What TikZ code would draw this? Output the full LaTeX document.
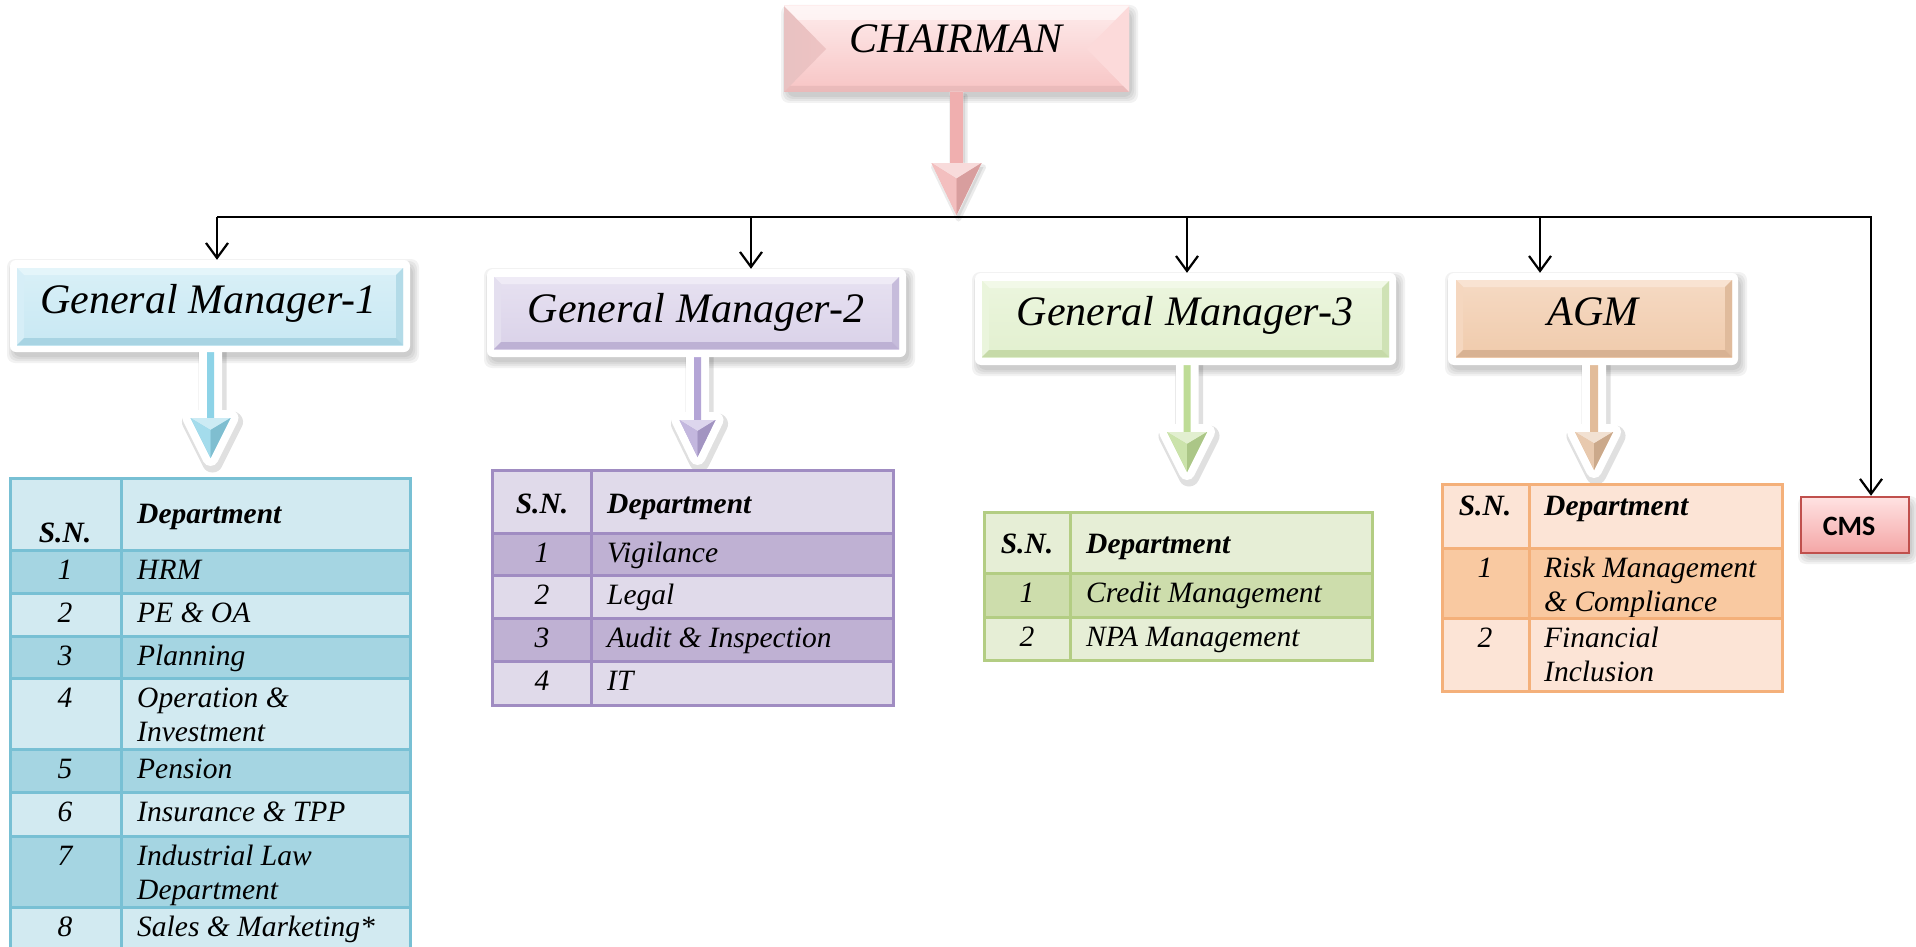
\documentclass[tikz,border=0pt]{standalone}
\usepackage{fontspec}
\setmainfont{Liberation Serif}
\newfontfamily\cmsfont{Carlito}
\usetikzlibrary{arrows.meta}

\definecolor{bluL}{HTML}{D2EAF1}
\definecolor{bluD}{HTML}{A5D5E2}
\definecolor{bluB}{HTML}{78C0D4}
\definecolor{bluBox}{HTML}{C8E8F3}
\definecolor{bluLt}{HTML}{E4F5FA}
\definecolor{bluDk}{HTML}{93C7D8}
\definecolor{bluArr}{HTML}{8DD3E7}

\definecolor{purL}{HTML}{E0DAEA}
\definecolor{purD}{HTML}{BFB1D3}
\definecolor{purB}{HTML}{A08CC2}
\definecolor{purBox}{HTML}{DAD2E9}
\definecolor{purLt}{HTML}{EFEBF6}
\definecolor{purDk}{HTML}{A99BC6}
\definecolor{purArr}{HTML}{B4A5D6}

\definecolor{grnL}{HTML}{E6EED6}
\definecolor{grnD}{HTML}{CDDDAC}
\definecolor{grnB}{HTML}{B3CD83}
\definecolor{grnBox}{HTML}{E2F0CF}
\definecolor{grnLt}{HTML}{F2F9E8}
\definecolor{grnDk}{HTML}{B3CC8E}
\definecolor{grnArr}{HTML}{BEDC96}

\definecolor{orgL}{HTML}{FCE4D6}
\definecolor{orgD}{HTML}{F9C9A1}
\definecolor{orgB}{HTML}{F4B07A}
\definecolor{orgBox}{HTML}{F0CBAC}
\definecolor{orgLt}{HTML}{F9E3D2}
\definecolor{orgDk}{HTML}{C9A283}
\definecolor{orgArr}{HTML}{E2BC9A}

\definecolor{pnkTop}{HTML}{FEECEC}
\definecolor{pnkBot}{HTML}{F7C4C4}
\definecolor{pnkLeft}{HTML}{E8C2C2}
\definecolor{pnkRight}{HTML}{FCDADA}
\definecolor{pnkArr}{HTML}{F0AFAF}
\definecolor{cmsTop}{HTML}{FFE2E2}
\definecolor{cmsBot}{HTML}{F4A6A6}
\definecolor{cmsB}{HTML}{C0504D}

\tikzset{
  bus/.style={draw=black, line width=2.2pt},
  droparrow/.style={bus, -{Straight Barb[length=15pt,width=22pt,line width=2.2pt]}},
  boxtext/.style={font=\fontsize{42}{50}\selectfont\itshape, inner sep=0, anchor=base},
  celltext/.style={font=\fontsize{29.5}{34}\selectfont\itshape, inner sep=0},
  headtext/.style={font=\fontsize{29.5}{34}\selectfont\bfseries\itshape, inner sep=0},
  glow/.style={fill=white, rounded corners=6pt, inner sep=0},
}

\newcommand\softshadow[4]{%
  \foreach \k in {0,2,4,6}{%
    \fill[black, opacity=0.05, rounded corners=8pt] ({#1+3-\k},{#2+5-\k}) rectangle ({#3+3+\k},{#4+5+\k});
  }%
}

% name, x1, y1, x2, y2, base, light, dark, bevel
\newcommand\bevelbox[9]{%
  \shade[top color=#7!60!#6, bottom color=#6] (#2,#3) rectangle (#4,#5);
  \fill[#7] (#2,#3) -- (#4,#3) -- ({#4-#9},{#3+#9}) -- ({#2+#9},{#3+#9}) -- cycle;
  \fill[#7!50!#6] (#2,#3) -- ({#2+#9},{#3+#9}) -- ({#2+#9},{#5-#9}) -- (#2,#5) -- cycle;
  \fill[#8!40!#6] (#4,#3) -- ({#4-#9},{#3+#9}) -- ({#4-#9},{#5-#9}) -- (#4,#5) -- cycle;
  \fill[#8!60!#6] (#2,#5) -- ({#2+#9},{#5-#9}) -- ({#4-#9},{#5-#9}) -- (#4,#5) -- cycle;
  \node[inner sep=0, minimum width={(#4-#2)*1pt}, minimum height={(#5-#3)*1pt}] (#1) at ({(#2+#4)/2},{(#3+#5)/2}) {};
}

% cx, ytop, yhead, ytip, shaft half, head half, colour, outline width, shadow opacity
\newcommand\blockarrow[9]{%
  \path[fill=black, draw=black, opacity=#9, line width={#8+5pt}, line join=round, xshift=2pt, yshift=-4pt]
    ({#1-#5},#2) -- ({#1-#5},#3) -- ({#1-#6},#3) -- (#1,#4) -- ({#1+#6},#3) -- ({#1+#5},#3) -- ({#1+#5},#2) -- cycle;
  \path[fill=white, draw=white, line width=#8, line join=round]
    ({#1-#5},#2) -- ({#1-#5},#3) -- ({#1-#6},#3) -- (#1,#4) -- ({#1+#6},#3) -- ({#1+#5},#3) -- ({#1+#5},#2) -- cycle;
  \path[fill=#7]
    ({#1-#5},#2) -- ({#1-#5},#3) -- ({#1-#6},#3) -- (#1,#4) -- ({#1+#6},#3) -- ({#1+#5},#3) -- ({#1+#5},#2) -- cycle;
  \fill[#7!45!white] ({#1-#6},#3) -- ({#1+#6},#3) -- (#1,{#3+(#4-#3)*0.3}) -- cycle;
  \fill[#7!80!white] ({#1-#6},#3) -- (#1,{#3+(#4-#3)*0.3}) -- (#1,#4) -- cycle;
  \fill[#7!90!black] ({#1+#6},#3) -- (#1,{#3+(#4-#3)*0.3}) -- (#1,#4) -- cycle;
}

\newcommand\tabsetup[5]{\def\TXa{#1}\def\TXd{#2}\def\TXb{#3}\def\TSN{#4}\def\TDX{#5}}
\newcommand\trow[6]{%
  \fill[#4] (\TXa,#2) rectangle (\TXb,#3);
  \node[celltext, anchor=base] (#1n) at (\TSN,{#2+29}) {#5};
  \node[celltext, anchor=base west] (#1d) at (\TDX,{#2+29}) {#6};
}
\newcommand\trowii[7]{%
  \trow{#1}{#2}{#3}{#4}{#5}{#6}
  \node[celltext, anchor=base west] (#1e) at (\TDX,{#2+63}) {#7};
}
\newcommand\thead[6]{%
  \fill[#4] (\TXa,#2) rectangle (\TXb,#3);
  \node[headtext, anchor=base] (#1n) at (\TSN,#5) {S.N.};
  \node[headtext, anchor=base west] (#1d) at (\TDX,#6) {Department};
}
\newcommand\tgrid[4]{%
  \draw[#1, line width=3pt] (\TXa,#2) rectangle (\TXb,#3);
  \draw[#1, line width=3pt] (\TXd,#2) -- (\TXd,#3);
  \foreach \yy in {#4} \draw[#1, line width=3pt] (\TXa,\yy) -- (\TXb,\yy);
}

\begin{document}
\begin{tikzpicture}[x=1pt,y=-1pt]
\clip (0,0) rectangle (1916,947);
\fill[white] (0,0) rectangle (1916,947);

% shadows
\softshadow{10}{260}{410}{352}
\softshadow{487}{269}{906}{357}
\softshadow{975}{273}{1396}{365}
\softshadow{1448}{273}{1738}{365}
\softshadow{784}{6}{1129}{92}
\softshadow{1801}{497}{1909}{553}

% block arrows from managers to tables
\blockarrow{210.5}{330}{418}{458}{3.5}{20}{bluArr}{16pt}{0.12}
\blockarrow{697.5}{335}{420}{457}{3.5}{18}{purArr}{16pt}{0.12}
\blockarrow{1187}{340}{432}{472}{3.5}{20}{grnArr}{16pt}{0.12}
\blockarrow{1594}{340}{432}{470}{4}{19}{orgArr}{16pt}{0.12}

% glows
\node[glow, minimum width=400pt, minimum height=92pt] (gm1glow) at (210,306) {};
\node[glow, minimum width=419pt, minimum height=88pt] (gm2glow) at (696.5,313) {};
\node[glow, minimum width=421pt, minimum height=92pt] (gm3glow) at (1185.5,319) {};
\node[glow, minimum width=290pt, minimum height=92pt] (agmglow) at (1593,319) {};

% manager boxes
\bevelbox{gm1}{17}{268}{403}{345}{bluBox}{bluLt}{bluDk}{7}
\bevelbox{gm2}{494}{277}{899}{349}{purBox}{purLt}{purDk}{7}
\bevelbox{gm3}{982}{281}{1389}{357}{grnBox}{grnLt}{grnDk}{7}
\bevelbox{agm}{1456}{280}{1732}{357}{orgBox}{orgLt}{orgDk}{7}
\node[boxtext] (gm1t) at (208.5,313) {General Manager-1};
\node[boxtext] (gm2t) at (696,322) {General Manager-2};
\node[boxtext] (gm3t) at (1185,325) {General Manager-3};
\node[boxtext] (agmt) at (1593,325) {AGM};

% chairman
\shade[top color=pnkTop, bottom color=pnkBot] (784,6) rectangle (1129,92);
\shade[left color=pnkLeft, right color=pnkLeft!60!pnkBot] (784,6) -- (826,49) -- (784,92) -- cycle;
\fill[pnkRight] (1129,6) -- (1087,49) -- (1129,92) -- cycle;
\fill[white, opacity=0.5] (784,6) -- (1129,6) -- (1115,20) -- (798,20) -- cycle;
\fill[pnkBot!85!black, opacity=0.35] (784,92) -- (1129,92) -- (1123,86) -- (790,86) -- cycle;
\node[inner sep=0, minimum width=345pt, minimum height=86pt] (chair) at (956.5,49) {};
\node[boxtext] (chairt) at (956,53) {CHAIRMAN};
\blockarrow{956.5}{92}{163}{215}{6.5}{25}{pnkArr}{0.1pt}{0.08}

% bus and drop arrows
\coordinate (bus1) at (217,217);
\coordinate (bus2) at (751,217);
\coordinate (bus3) at (1187,217);
\coordinate (bus4) at (1540,217);
\coordinate (busE) at (1871,217);
\node[draw=cmsB, line width=2.5pt, top color=cmsTop, bottom color=cmsBot, minimum width=108pt, minimum height=56pt, inner sep=0] (cms) at (1855,525) {};
\node[font=\cmsfont\bfseries\fontsize{28}{32}\selectfont, anchor=base, inner sep=0] (cmst) at (1849,535) {CMS};
\draw[droparrow] (bus1) -- (busE) -- (busE |- cms.north);
\draw[droparrow] (bus1) -- (bus1 |- gm1glow.north);
\draw[droparrow] (bus2) -- (bus2 |- gm2glow.north);
\draw[droparrow] (bus3) -- (bus3 |- gm3glow.north);
\draw[droparrow] (bus4) -- (bus4 |- agmglow.north);

% table GM1
\tabsetup{10}{121}{410}{65}{137}
\thead{ta}{478}{550}{bluL}{542}{523}
\trow{ta1}{550}{593}{bluD}{1}{HRM}
\trow{ta2}{593}{636}{bluL}{2}{PE \& OA}
\trow{ta3}{636}{678}{bluD}{3}{Planning}
\trowii{ta4}{678}{749}{bluL}{4}{Operation \&}{Investment}
\trow{ta5}{749}{792}{bluD}{5}{Pension}
\trow{ta6}{792}{836}{bluL}{6}{Insurance \& TPP}
\trowii{ta7}{836}{907}{bluD}{7}{Industrial Law}{Department}
\trow{ta8}{907}{960}{bluL}{8}{Sales \& Marketing*}
\tgrid{bluB}{478}{960}{550,593,636,678,749,792,836,907}

% table GM2
\tabsetup{492}{591}{893}{542}{607}
\thead{tb}{470}{533}{purL}{513}{513}
\trow{tb1}{533}{575}{purD}{1}{Vigilance}
\trow{tb2}{575}{618}{purL}{2}{Legal}
\trow{tb3}{618}{661}{purD}{3}{Audit \& Inspection}
\trow{tb4}{661}{705}{purL}{4}{IT}
\tgrid{purB}{470}{705}{533,575,618,661}

% table GM3
\tabsetup{984}{1070}{1372}{1027}{1086}
\thead{tc}{512}{573}{grnL}{553}{553}
\trow{tc1}{573}{617}{grnD}{1}{Credit Management}
\trow{tc2}{617}{660}{grnL}{2}{NPA Management}
\tgrid{grnB}{512}{660}{573,617}

% table AGM
\tabsetup{1442}{1529}{1782}{1485}{1544}
\thead{td}{484}{548}{orgL}{515}{515}
\trowii{td1}{548}{618}{orgD}{1}{Risk Management}{\& Compliance}
\trowii{td2}{618}{691}{orgL}{2}{Financial}{Inclusion}
\tgrid{orgB}{484}{691}{548,618}
\end{tikzpicture}
\end{document}
